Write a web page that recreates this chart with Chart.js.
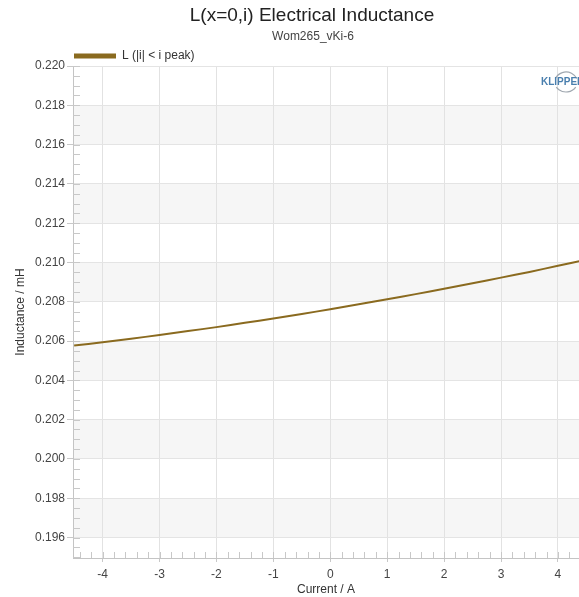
<!DOCTYPE html>
<html>
<head>
<meta charset="utf-8">
<script src="https://cdn.jsdelivr.net/npm/chart.js@4.4.1/dist/chart.umd.min.js"></script>
<style>
  html, body { margin: 0; padding: 0; background: #ffffff; overflow: hidden; }
  #wrap { width: 579px; height: 597px; position: relative; }
</style>
</head>
<body>
<div id="wrap"><canvas id="c"></canvas></div>
<script>
// ---- data ----
const titleText = 'L(x=0,i) Electrical Inductance';
const subtitleText = 'Wom265_vKi-6';
const seriesLabel = 'L (|i| < i peak)';
const xTitle = 'Current / A';
const yTitle = 'Inductance / mH';
const currentA = [-4.5, -4, -3.5, -3, -2.5, -2, -1.5, -1, -0.5, 0, 0.5, 1, 1.5, 2, 2.5, 3, 3.5, 4, 4.5];
const inductanceMH = [0.20577, 0.20594, 0.20612, 0.20631, 0.20651, 0.20671, 0.20693, 0.20715, 0.20738, 0.20762,
                      0.20787, 0.20813, 0.20839, 0.20866, 0.20894, 0.20923, 0.20952, 0.20983, 0.21014];
const xTicks = [-4, -3, -2, -1, 0, 1, 2, 3, 4];
const yTicks = [0.196, 0.198, 0.200, 0.202, 0.204, 0.206, 0.208, 0.210, 0.212, 0.214, 0.216, 0.218, 0.220];
const xMinorStep = 0.2;
const yMinorStep = 0.0005;

const lineColor = '#8a6a1f';
const FONT = "'Liberation Sans', Arial, sans-serif";

const decorPlugin = {
  id: 'decor',
  beforeDraw(chart) {
    const { ctx, chartArea: a, scales } = chart;
    const y = scales.y;
    ctx.save();
    ctx.fillStyle = '#ffffff';
    ctx.fillRect(0, 0, chart.width, chart.height);
    // alternating bands
    ctx.fillStyle = '#f6f6f6';
    for (let i = 0; i < yTicks.length - 1; i++) {
      if ((yTicks.length - 2 - i) % 2 === 1) {
        const top = y.getPixelForValue(yTicks[i + 1]);
        const bot = y.getPixelForValue(yTicks[i]);
        ctx.fillRect(a.left, top, a.right - a.left, bot - top);
      }
    }
    ctx.restore();
  },
  afterDraw(chart) {
    const { ctx, chartArea: a, scales } = chart;
    const x = scales.x, y = scales.y;
    ctx.save();
    // minor ticks (inside)
    ctx.strokeStyle = '#c8c8c8';
    ctx.lineWidth = 1;
    ctx.beginPath();
    const yStart = Math.ceil(y.min / yMinorStep) * yMinorStep;
    for (let v = yStart; v <= y.max + 1e-9; v += yMinorStep) {
      const py = Math.round(y.getPixelForValue(v)) + 0.5;
      ctx.moveTo(a.left, py); ctx.lineTo(a.left + 7, py);
    }
    const xStart = Math.ceil(x.min / xMinorStep) * xMinorStep;
    for (let v = xStart; v <= x.max + 1e-9; v += xMinorStep) {
      const px = Math.round(x.getPixelForValue(v)) + 0.5;
      ctx.moveTo(px, a.bottom); ctx.lineTo(px, a.bottom - 6);
    }
    ctx.stroke();

    // titles
    ctx.fillStyle = '#222222';
    ctx.textAlign = 'center';
    ctx.textBaseline = 'middle';
    ctx.font = '19px ' + FONT;
    ctx.fillText(titleText, 312, 16);
    ctx.fillStyle = '#444444';
    ctx.font = '12px ' + FONT;
    ctx.fillText(subtitleText, 313, 37);

    // legend
    ctx.fillStyle = lineColor;
    ctx.fillRect(74, 53.5, 42, 5);
    ctx.fillStyle = '#333333';
    ctx.textAlign = 'left';
    ctx.font = '12px ' + FONT;
    ctx.fillText(seriesLabel, 122, 56);

    // logo
    ctx.strokeStyle = '#a0a8b0';
    ctx.lineWidth = 1.2;
    ctx.beginPath();
    ctx.arc(566, 84, 12, Math.PI * 1.15, Math.PI * 1.85);
    ctx.stroke();
    ctx.beginPath();
    ctx.arc(566, 80, 12, Math.PI * 0.2, Math.PI * 0.8);
    ctx.stroke();
    ctx.fillStyle = '#4a7fae';
    ctx.font = 'bold 10px ' + FONT;
    ctx.textAlign = 'left';
    ctx.fillText('KLIPPEL', 541, 82);
    ctx.restore();
  }
};

new Chart(document.getElementById('c'), {
  type: 'line',
  data: {
    datasets: [{
      label: seriesLabel,
      data: currentA.map((v, i) => ({ x: v, y: inductanceMH[i] })),
      borderColor: lineColor,
      borderWidth: 2,
      pointRadius: 0,
      tension: 0.3,
      fill: false
    }]
  },
  options: {
    responsive: true,
    maintainAspectRatio: false,
    animation: false,
    layout: { padding: { top: 66, right: 0, left: 0, bottom: 0 } },
    plugins: {
      legend: { display: false },
      title: { display: false },
      tooltip: { enabled: false }
    },
    scales: {
      x: {
        type: 'linear',
        min: -4.52,
        max: 4.37,
        afterBuildTicks: s => { s.ticks = xTicks.map(v => ({ value: v })); },
        afterFit: s => { s.height = 39; },
        grid: { color: '#e2e2e2', tickColor: '#c8c8c8', tickLength: 4 },
        border: { color: '#c4c4c4' },
        ticks: { color: '#444', font: { family: FONT, size: 12 }, padding: 5, maxRotation: 0 },
        title: { display: true, text: xTitle, color: '#333', font: { family: FONT, size: 12 }, padding: { top: 0, bottom: 0 } }
      },
      y: {
        type: 'linear',
        min: 0.19496,
        max: 0.220,
        afterBuildTicks: s => { s.ticks = yTicks.map(v => ({ value: v })); },
        afterFit: s => { s.width = 73; },
        grid: { color: '#e4e4e4', tickColor: '#c8c8c8', tickLength: 6 },
        border: { color: '#c4c4c4' },
        ticks: { color: '#444', font: { family: FONT, size: 12 }, padding: 2, callback: v => Number(v).toFixed(3) },
        title: { display: true, text: yTitle, color: '#333', font: { family: FONT, size: 12 }, padding: { top: 13, bottom: 0 } }
      }
    }
  },
  plugins: [decorPlugin]
});
</script>
</body>
</html>
